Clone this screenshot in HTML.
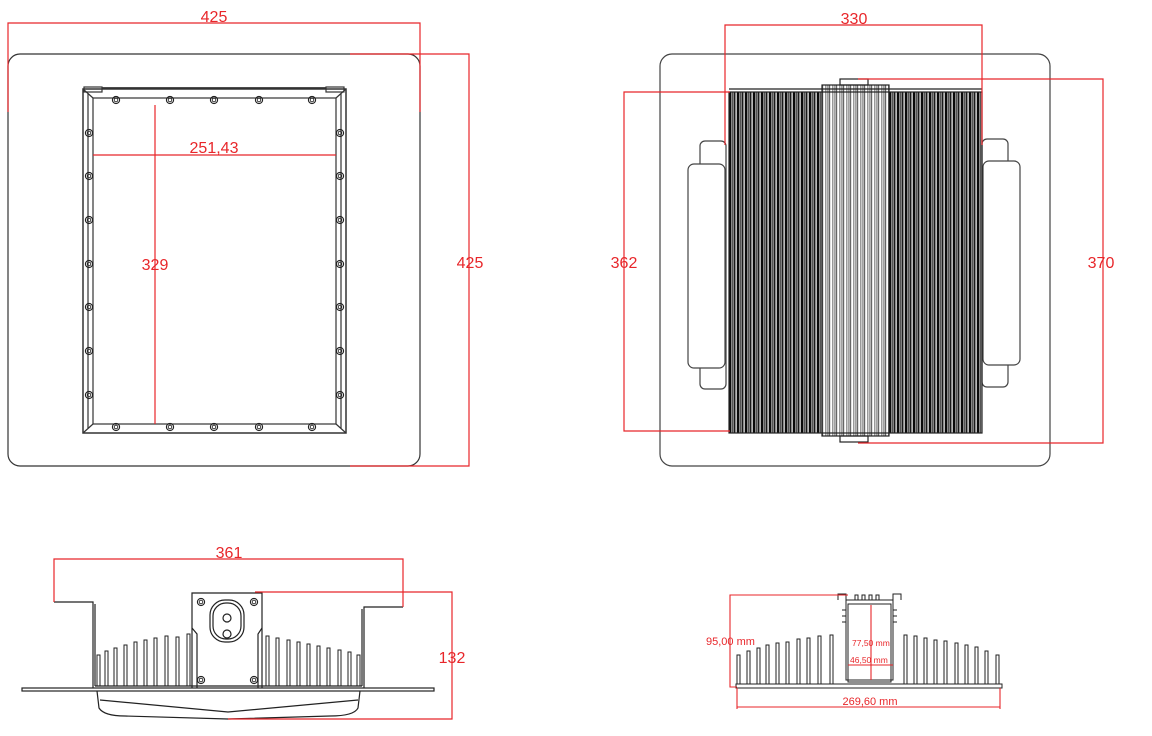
<!DOCTYPE html>
<html><head><meta charset="utf-8"><style>
html,body{margin:0;padding:0;background:#fff;}
svg{display:block;}
text{font-family:"Liberation Sans",sans-serif;fill:#e8262a;}
</style></head><body>
<svg width="1152" height="736" viewBox="0 0 1152 736" xmlns="http://www.w3.org/2000/svg">
<defs>
<pattern id="fin" x="729" y="0" width="8" height="10" patternUnits="userSpaceOnUse">
<rect x="0" y="0" width="2.2" height="10" fill="#0a0a0a"/>
<rect x="2.6" y="0" width="1.6" height="10" fill="#555"/>
<rect x="4.6" y="0" width="1.8" height="10" fill="#1a1a1a"/>
<rect x="6.8" y="0" width="0.8" height="10" fill="#888"/>
</pattern>
<pattern id="fin2" x="822" y="0" width="7" height="10" patternUnits="userSpaceOnUse">
<rect x="0" y="0" width="1.2" height="10" fill="#666"/>
<rect x="3" y="0" width="1.5" height="10" fill="#999"/>
<rect x="5.5" y="0" width="0.9" height="10" fill="#444"/>
</pattern>
<g id="bolt"><circle r="3.6" fill="none" stroke="#222" stroke-width="1.1"/><circle r="1.8" fill="none" stroke="#222" stroke-width="0.9"/></g>
</defs>

<!-- ===== VIEW 1 ===== -->
<g fill="none" stroke="#333" stroke-width="1.2">
<rect x="8" y="54" width="412" height="412" rx="12"/>
<rect x="83" y="89" width="263" height="344" stroke-width="1.5"/>
<rect x="93" y="98" width="243" height="326"/>
<line x1="83" y1="89" x2="93" y2="98"/><line x1="346" y1="89" x2="336" y2="98"/>
<line x1="83" y1="433" x2="93" y2="424"/><line x1="346" y1="433" x2="336" y2="424"/>
<line x1="88" y1="94" x2="88" y2="428"/><line x1="341" y1="94" x2="341" y2="428"/>
<line x1="102" y1="88" x2="326" y2="88" stroke-width="1.8"/>
<rect x="84" y="87" width="18" height="5"/><rect x="326" y="87" width="18" height="5"/>
</g>
<g>
<use href="#bolt" x="116" y="100"/><use href="#bolt" x="170" y="100"/><use href="#bolt" x="214" y="100"/><use href="#bolt" x="259" y="100"/><use href="#bolt" x="312" y="100"/>
<use href="#bolt" x="116" y="427"/><use href="#bolt" x="170" y="427"/><use href="#bolt" x="214" y="427"/><use href="#bolt" x="259" y="427"/><use href="#bolt" x="312" y="427"/>
<use href="#bolt" x="89" y="133"/><use href="#bolt" x="89" y="176"/><use href="#bolt" x="89" y="220"/><use href="#bolt" x="89" y="264"/><use href="#bolt" x="89" y="307"/><use href="#bolt" x="89" y="351"/><use href="#bolt" x="89" y="395"/>
<use href="#bolt" x="340" y="133"/><use href="#bolt" x="340" y="176"/><use href="#bolt" x="340" y="220"/><use href="#bolt" x="340" y="264"/><use href="#bolt" x="340" y="307"/><use href="#bolt" x="340" y="351"/><use href="#bolt" x="340" y="395"/>
</g>
<g stroke="#e8262a" stroke-width="1.2" fill="none">
<polyline points="8,112 8,23 420,23 420,112"/>
<polyline points="350,54 469,54 469,466 350,466"/>
<line x1="93" y1="155" x2="336" y2="155"/>
<line x1="155" y1="105" x2="155" y2="424"/>
</g>
<text x="214" y="22" font-size="16" text-anchor="middle">425</text>
<text x="470" y="268" font-size="16" text-anchor="middle">425</text>
<text x="214" y="153" font-size="16" text-anchor="middle">251,43</text>
<text x="155" y="270" font-size="16" text-anchor="middle">329</text>

<!-- ===== VIEW 2 ===== -->
<g fill="none" stroke="#444" stroke-width="1.2">
<rect x="660" y="54" width="390" height="412" rx="12"/>
<rect x="700" y="141" width="26" height="248" rx="5"/>
<rect x="688" y="164" width="37" height="204" rx="6" fill="#fff"/>
<rect x="982" y="139" width="26" height="248" rx="5"/>
<rect x="983" y="161" width="37" height="204" rx="6" fill="#fff"/>
</g>
<rect x="729" y="92" width="93" height="341" fill="url(#fin)"/>
<rect x="889" y="92" width="93" height="341" fill="url(#fin)"/>
<rect x="822" y="85" width="67" height="351" fill="url(#fin2)"/>
<g fill="none" stroke="#222" stroke-width="1.2">
<rect x="729" y="92" width="253" height="341"/>
<rect x="822" y="85" width="67" height="351"/>
<rect x="840" y="79" width="28" height="6"/><rect x="840" y="436" width="28" height="6"/>
<line x1="729" y1="89" x2="982" y2="89"/>
</g>
<g stroke="#e8262a" stroke-width="1.2" fill="none">
<polyline points="725,145 725,25 982,25 982,145"/>
<polyline points="730,92 624,92 624,431 730,431"/>
<polyline points="858,79 1103,79 1103,443 858,443"/>
</g>
<text x="854" y="24" font-size="16" text-anchor="middle">330</text>
<text x="624" y="268" font-size="16" text-anchor="middle">362</text>
<text x="1101" y="268" font-size="16" text-anchor="middle">370</text>

<!-- ===== VIEW 3 ===== -->
<g fill="none" stroke="#222" stroke-width="1.2">
<polyline points="54,602 93,602 93,688"/>
<polyline points="403,607 364,607 364,688"/>
<line x1="95" y1="604" x2="95" y2="686"/><line x1="362" y1="609" x2="362" y2="686"/>
<rect x="22" y="688" width="412" height="3"/>
<polyline points="192,688 192,593 262,593 262,688"/>
<polyline points="192,628 197,634 197,688"/><polyline points="262,628 258,634 258,688"/>
<rect x="210" y="600" width="34" height="42" rx="15"/>
<rect x="213" y="603" width="28" height="36" rx="13"/>
<circle cx="227" cy="618" r="4"/><circle cx="227" cy="634" r="4"/>
<path d="M97,691 L99,708 Q104,716 125,716 L228,719 L330,716 Q354,716 358,708 L360,691"/>
<path d="M100,700 L228,712 L358,700"/>
<line x1="95" y1="686" x2="362" y2="686"/>
</g>
<g>
<use href="#bolt" x="201" y="602"/><use href="#bolt" x="254" y="602"/><use href="#bolt" x="201" y="680"/><use href="#bolt" x="254" y="680"/>
</g>
<g fill="none" stroke="#222" stroke-width="1">
<rect x="97" y="655" width="3" height="31"/><rect x="105" y="651" width="3" height="35"/><rect x="114" y="648" width="3" height="38"/><rect x="124" y="645" width="3" height="41"/><rect x="134" y="642" width="3" height="44"/><rect x="144" y="640" width="3" height="46"/><rect x="154" y="638" width="3" height="48"/><rect x="165" y="636" width="3" height="50"/><rect x="176" y="637" width="3" height="49"/><rect x="187" y="634" width="3" height="52"/>
<rect x="266" y="636" width="3" height="50"/><rect x="276" y="638" width="3" height="48"/><rect x="287" y="640" width="3" height="46"/><rect x="297" y="642" width="3" height="44"/><rect x="307" y="644" width="3" height="42"/><rect x="317" y="646" width="3" height="40"/><rect x="327" y="648" width="3" height="38"/><rect x="338" y="650" width="3" height="36"/><rect x="348" y="652" width="3" height="34"/><rect x="357" y="655" width="3" height="31"/>
</g>
<g stroke="#e8262a" stroke-width="1.2" fill="none">
<polyline points="54,602 54,559 403,559 403,607"/>
<polyline points="255,592 452,592 452,719 228,719"/>
</g>
<text x="229" y="558" font-size="16" text-anchor="middle">361</text>
<text x="452" y="663" font-size="16" text-anchor="middle">132</text>

<!-- ===== VIEW 4 ===== -->
<g fill="none" stroke="#222" stroke-width="1">
<rect x="736" y="684" width="266" height="4"/>
<rect x="737" y="655" width="3" height="29"/><rect x="747" y="651" width="3" height="33"/><rect x="757" y="648" width="3" height="36"/><rect x="766" y="645" width="3" height="39"/><rect x="776" y="643" width="3" height="41"/><rect x="786" y="642" width="3" height="42"/><rect x="797" y="639" width="3" height="45"/><rect x="807" y="638" width="3" height="46"/><rect x="818" y="636" width="3" height="48"/><rect x="830" y="635" width="3" height="49"/>
<rect x="904" y="635" width="3" height="49"/><rect x="914" y="636" width="3" height="48"/><rect x="924" y="638" width="3" height="46"/><rect x="934" y="640" width="3" height="44"/><rect x="944" y="641" width="3" height="43"/><rect x="955" y="643" width="3" height="41"/><rect x="965" y="645" width="3" height="39"/><rect x="975" y="647" width="3" height="37"/><rect x="985" y="651" width="3" height="33"/><rect x="996" y="655" width="3" height="29"/>
<rect x="846" y="600" width="47" height="80"/>
<rect x="848" y="604" width="43" height="78"/>
<polyline points="838,600 838,594 846,594 846,600"/><polyline points="893,600 893,594 901,594 901,600"/>
<path d="M855,600 v-5 h3 v5 M862,600 v-5 h3 v5 M869,600 v-5 h3 v5 M876,600 v-5 h3 v5"/>
<path d="M846,610 h-4 M846,616 h-4 M846,622 h-4 M893,610 h4 M893,616 h4 M893,622 h4"/>
</g>
<g stroke="#e8262a" stroke-width="1.1" fill="none">
<polyline points="848,595 730,595 730,687 737,687"/>
<line x1="737" y1="707" x2="1000" y2="707"/>
<line x1="737" y1="688" x2="737" y2="709"/><line x1="1000" y1="688" x2="1000" y2="709"/>
<line x1="871" y1="605" x2="871" y2="680"/>
<line x1="848" y1="665" x2="893" y2="665"/>
</g>
<text x="706" y="645" font-size="11">95,00 mm</text>
<text x="870" y="705" font-size="11" text-anchor="middle">269,60 mm</text>
<text x="852" y="646" font-size="8.5">77,50 mm</text>
<text x="850" y="663" font-size="8.5">46,50 mm</text>
</svg>
</body></html>
